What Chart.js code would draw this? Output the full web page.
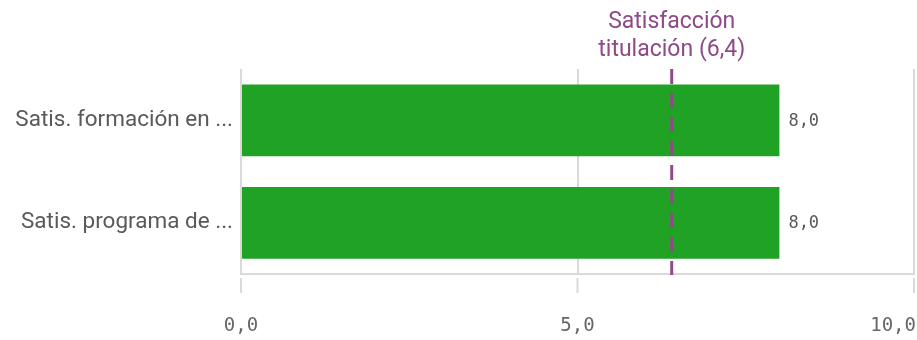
<!DOCTYPE html>
<html>
<head>
<meta charset="utf-8">
<script src="https://cdn.jsdelivr.net/npm/chart.js@4/dist/chart.umd.min.js"></script>
<style>
  html, body { margin: 0; padding: 0; background: #ffffff; }
  #wrap { width: 917px; height: 340px; }
</style>
</head>
<body>
<div id="wrap"><canvas id="chart" width="917" height="340"></canvas></div>
<script>
// Bar categories and their scores
const categories = ['Satis. formación en ...', 'Satis. programa de ...'];
const values = [8.0, 8.0];

// Reference line for the overall degree satisfaction
const refValue = 6.4;
const refLabel = ['Satisfacción', 'titulación (6,4)'];

// Value axis
const xMin = 0;
const xMax = 10;
const xStep = 5;

const GRID = '#d9d9d9';
const TEXT = '#595959';
const PURPLE = '#8e4a86';
const GREEN = '#20a224';
const MONO = '"DejaVu Sans Mono", "Liberation Mono", monospace';
const SANS = 'Roboto, "Noto Sans", sans-serif';

const fmt = v => v.toFixed(1).replace('.', ',');

const overlay = {
  id: 'overlay',
  afterDatasetsDraw(chart) {
    const ctx = chart.ctx;
    const area = chart.chartArea;
    const xs = chart.scales.x;

    // value labels next to each bar
    ctx.save();
    ctx.font = '17px ' + MONO;
    ctx.fillStyle = TEXT;
    ctx.textAlign = 'left';
    ctx.textBaseline = 'middle';
    chart.getDatasetMeta(0).data.forEach((el, i) => {
      ctx.fillText(fmt(values[i]), el.x + 9, el.y + 1);
    });
    ctx.restore();

    // dashed reference line with its caption
    const px = xs.getPixelForValue(refValue);
    ctx.save();
    ctx.strokeStyle = PURPLE;
    ctx.lineWidth = 3;
    ctx.setLineDash([15, 9]);
    ctx.beginPath();
    ctx.moveTo(px, area.top);
    ctx.lineTo(px, area.bottom + 1);
    ctx.stroke();
    ctx.setLineDash([]);
    ctx.fillStyle = PURPLE;
    ctx.font = '23px ' + SANS;
    ctx.textAlign = 'center';
    ctx.textBaseline = 'middle';
    ctx.fillText(refLabel[0], px, 22);
    ctx.fillText(refLabel[1], px, 50);
    ctx.restore();
  },
  afterDraw(chart) {
    const ctx = chart.ctx;
    const area = chart.chartArea;
    const xs = chart.scales.x;
    ctx.save();
    ctx.strokeStyle = GRID;
    ctx.lineWidth = 2;
    ctx.font = '19px ' + MONO;
    ctx.fillStyle = '#666666';
    ctx.textBaseline = 'middle';
    xs.ticks.forEach(t => {
      const px = xs.getPixelForValue(t.value);
      // tick mark, detached from the axis line
      ctx.beginPath();
      ctx.moveTo(px, area.bottom + 4);
      ctx.lineTo(px, area.bottom + 19);
      ctx.stroke();
      // tick label, kept inside the canvas
      const label = fmt(t.value);
      const w = ctx.measureText(label).width;
      if (px + w / 2 > chart.width - 1) {
        ctx.textAlign = 'right';
        ctx.fillText(label, chart.width - 1, 326);
      } else {
        ctx.textAlign = 'center';
        ctx.fillText(label, px, 326);
      }
    });
    ctx.restore();
  }
};

new Chart(document.getElementById('chart'), {
  type: 'bar',
  data: {
    labels: categories,
    datasets: [{
      data: values,
      backgroundColor: GREEN,
      borderWidth: 0,
      barPercentage: 0.7,
      categoryPercentage: 1.0
    }]
  },
  options: {
    indexAxis: 'y',
    responsive: false,
    animation: false,
    devicePixelRatio: 1,
    layout: { padding: { top: 69, right: 3, left: 0, bottom: 0 } },
    plugins: {
      legend: { display: false },
      tooltip: { enabled: false }
    },
    scales: {
      y: {
        grid: { display: false, drawTicks: false },
        border: { display: false },
        ticks: {
          color: TEXT,
          font: { family: SANS, size: 22.5 },
          padding: 8
        },
        afterFit: s => { s.width = 241; }
      },
      x: {
        min: xMin,
        max: xMax,
        ticks: { stepSize: xStep, display: false },
        grid: { color: GRID, lineWidth: 2, drawTicks: false },
        border: { display: true, color: GRID, width: 2 },
        afterFit: s => { s.height = 66; }
      }
    }
  },
  plugins: [overlay]
});
</script>
</body>
</html>
